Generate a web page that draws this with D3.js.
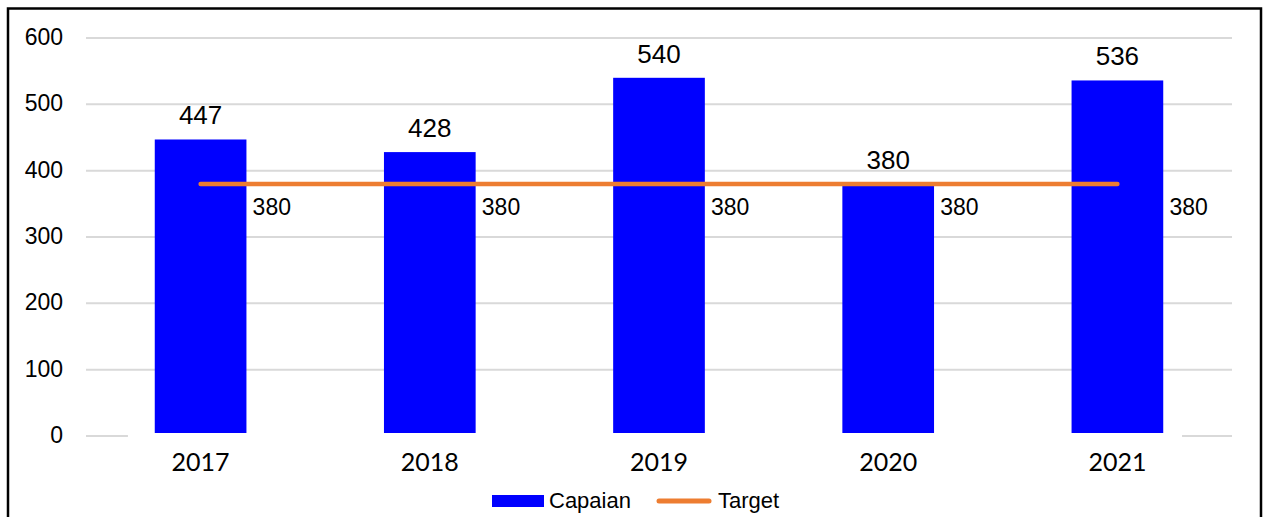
<!DOCTYPE html>
<html>
<head>
<meta charset="utf-8">
<script src="https://cdn.jsdelivr.net/npm/d3@7"></script>
<style>
  html, body { margin: 0; padding: 0; background: #fff; }
  svg { display: block; }
</style>
</head>
<body>
<div id="chart"></div>
<script>
// Chart data.
const years = ['2017', '2018', '2019', '2020', '2021'];
const capaian = [447, 428, 540, 380, 536];
const target = [380, 380, 380, 380, 380];
const yTicks = [0, 100, 200, 300, 400, 500, 600];

const width = 1269;
const height = 517;

// Chart variables.
const BLUE = '#0000FF';
const ORANGE = '#ED7D31';
const GRID = '#D9D9D9';
const plotLeft = 86;
const plotRight = 1232;
const plotTop = 38;
const plotBottom = 436;

const svg = d3.select('#chart')
  .append('svg')
  .attr('width', width)
  .attr('height', height);

// Outer frame, bottom edge runs off the picture.
svg.append('rect')
  .attr('x', 8)
  .attr('y', 8.5)
  .attr('width', 1253)
  .attr('height', 530)
  .attr('fill', 'none')
  .attr('stroke', '#000')
  .attr('stroke-width', 2.5);

const x = d3.scaleBand()
  .domain(years)
  .range([plotLeft, plotRight])
  .paddingInner(0.6)
  .paddingOuter(0.3);

const y = d3.scaleLinear()
  .domain([0, 600])
  .range([plotBottom, plotTop]);

// Gridlines (zero line only shows at both ends).
svg.append('g')
  .selectAll('line')
  .data(yTicks.filter(d => d > 0))
  .join('line')
  .attr('x1', plotLeft)
  .attr('x2', plotRight)
  .attr('y1', d => y(d))
  .attr('y2', d => y(d))
  .attr('stroke', GRID)
  .attr('stroke-width', 2);

const step = x.step();
svg.append('g')
  .selectAll('line')
  .data([[plotLeft, plotLeft + step * 0.183], [plotRight - step * 0.218, plotRight]])
  .join('line')
  .attr('x1', d => d[0])
  .attr('x2', d => d[1])
  .attr('y1', y(0))
  .attr('y2', y(0))
  .attr('stroke', GRID)
  .attr('stroke-width', 2);

// Y axis labels.
svg.append('g')
  .selectAll('text')
  .data(yTicks)
  .join('text')
  .attr('x', 63)
  .attr('y', d => y(d))
  .attr('dy', '0.3em')
  .attr('text-anchor', 'end')
  .attr('font-family', 'Liberation Sans, Arial, sans-serif')
  .attr('font-size', 23)
  .attr('fill', '#000')
  .text(d => d);

// X axis labels.
svg.append('g')
  .selectAll('text')
  .data(years)
  .join('text')
  .attr('x', d => x(d) + x.bandwidth() / 2)
  .attr('y', 471)
  .attr('text-anchor', 'middle')
  .attr('font-family', 'Lato, sans-serif')
  .attr('font-size', 25)
  .attr('fill', '#000')
  .text(d => d);

// Bars.
svg.append('g')
  .selectAll('rect')
  .data(capaian)
  .join('rect')
  .attr('x', (d, i) => x(years[i]))
  .attr('y', d => y(d))
  .attr('width', x.bandwidth())
  .attr('height', d => y(0) - 3 - y(d))
  .attr('fill', BLUE);

// Bar value labels.
svg.append('g')
  .selectAll('text')
  .data(capaian)
  .join('text')
  .attr('x', (d, i) => x(years[i]) + x.bandwidth() / 2)
  .attr('y', d => y(d) - 15)
  .attr('text-anchor', 'middle')
  .attr('font-family', 'Liberation Sans, Arial, sans-serif')
  .attr('font-size', 26)
  .attr('fill', '#000')
  .text(d => d);

// Target line.
const line = d3.line()
  .x((d, i) => x(years[i]) + x.bandwidth() / 2)
  .y(d => y(d));

svg.append('path')
  .datum(target)
  .attr('d', line)
  .attr('fill', 'none')
  .attr('stroke', ORANGE)
  .attr('stroke-width', 4.5)
  .attr('stroke-linecap', 'round');

// Target value labels.
svg.append('g')
  .selectAll('text')
  .data(target)
  .join('text')
  .attr('x', (d, i) => x(years[i]) + x.bandwidth() / 2 + 52)
  .attr('y', d => y(d) + 31)
  .attr('font-family', 'Liberation Sans, Arial, sans-serif')
  .attr('font-size', 23)
  .attr('fill', '#000')
  .text(d => d);

// Legend.
const legend = svg.append('g')
  .attr('font-family', 'Liberation Sans, Arial, sans-serif')
  .attr('font-size', 22)
  .attr('fill', '#000');

legend.append('rect')
  .attr('x', 492)
  .attr('y', 495)
  .attr('width', 52)
  .attr('height', 12)
  .attr('fill', BLUE);

legend.append('text')
  .attr('x', 549)
  .attr('y', 508)
  .text('Capaian');

legend.append('line')
  .attr('x1', 659)
  .attr('x2', 709)
  .attr('y1', 501)
  .attr('y2', 501)
  .attr('stroke', ORANGE)
  .attr('stroke-width', 5)
  .attr('stroke-linecap', 'round');

legend.append('text')
  .attr('x', 718)
  .attr('y', 508)
  .text('Target');
</script>
</body>
</html>
